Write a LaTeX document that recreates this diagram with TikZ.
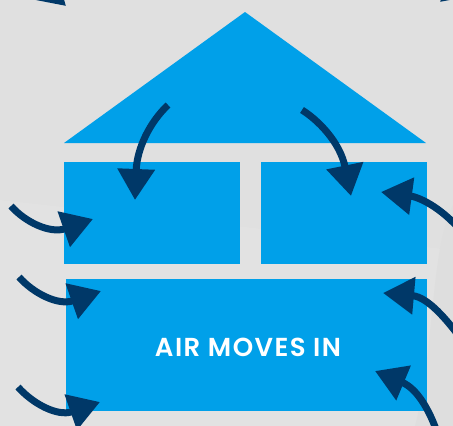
\documentclass[tikz,border=0pt]{standalone}
\usepackage{fontspec}
\usepackage{xcolor}
\usetikzlibrary{arrows.meta,positioning}
\newfontfamily\airfont[LetterSpace=5.5]{Poppins SemiBold}
\definecolor{housegrey}{RGB}{224,224,224}
\definecolor{housepale}{RGB}{226,226,226}
\definecolor{houseshade}{RGB}{222,222,222}
\definecolor{houseblue}{RGB}{0,160,233}
\definecolor{housenavy}{RGB}{0,56,104}
\begin{document}
\begin{tikzpicture}[x=1pt,y=-1pt,
  room/.style={fill=houseblue,inner sep=0pt,outer sep=0pt,anchor=north west},
  airflow/.style={draw=housenavy,line width=7pt,-{Triangle[length=31pt,width=36pt,fill=housenavy]}}]
\useasboundingbox (0,0) rectangle (453,426);
\clip (0,0) rectangle (453,426);
\fill[housegrey] (0,0) rectangle (453,426);
\fill[housepale] (0,200) -- (453,250) -- (453,426) -- (0,426) -- cycle;
\fill[houseshade] (453,205) .. controls (430,250) and (435,350) .. (415,426) -- (453,426) -- cycle;
% house
\fill[houseblue] (64,143) -- (245,12) -- (426,143) -- cycle;
\node[room,minimum width=176pt,minimum height=102pt] (leftroom) at (64,162) {};
\node[room,anchor=west,right=21pt of leftroom,minimum width=166pt,minimum height=102pt] (rightroom) {};
\node[room,minimum width=361pt,minimum height=132pt] (floorroom) at (66,279) {};
\node[font=\airfont\fontsize{26}{30}\selectfont,text=white,inner sep=0pt] (airlabel) at (248,347) {AIR MOVES IN};
% free ends of the arrows
\coordinate (roofa) at (168,105);
\coordinate (roofatip) at (135,200);
\coordinate (roofb) at (302,110);
\coordinate (roofbtip) at (351,196);
\coordinate (lefta) at (11,206);
\coordinate (leftatip) at (93,219);
\coordinate (leftb) at (19,277);
\coordinate (leftbtip) at (101,291);
\coordinate (leftc) at (18,387);
\coordinate (leftctip) at (100,402);
\coordinate (righta) at (462,232);
\coordinate (rightatip) at (381,192);
\coordinate (rightb) at (462,340);
\coordinate (rightbtip) at (383,293);
\coordinate (rightc) at (437,432);
\coordinate (rightctip) at (375,371);
\coordinate (topa) at (30,-40);
\coordinate (topatip) at (66,6);
\coordinate (topb) at (480,-40);
\coordinate (topbtip) at (440,2);
\draw[airflow] (roofa) .. controls (150,122) and (137,148) .. (roofatip);
\draw[airflow] (roofb) .. controls (318,120) and (340,142) .. (roofbtip);
\draw[airflow] (lefta) .. controls (25,222) and (50,234) .. (leftatip);
\draw[airflow] (leftb) .. controls (33,293) and (58,306) .. (leftbtip);
\draw[airflow] (leftc) .. controls (32,403) and (57,417) .. (leftctip);
\draw[airflow] (righta) .. controls (440,206) and (418,197) .. (rightatip);
\draw[airflow] (rightb) .. controls (447,320) and (428,297) .. (rightbtip);
\draw[airflow] (rightc) .. controls (430,412) and (418,389) .. (rightctip);
\draw[airflow] (topa) .. controls (32,-30) and (40,-18) .. (topatip);
\draw[airflow] (topb) .. controls (475,-35) and (464,-20) .. (topbtip);
\end{tikzpicture}
\end{document}
